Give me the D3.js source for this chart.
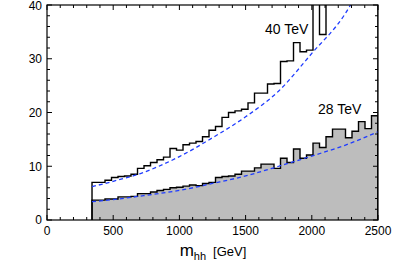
<!DOCTYPE html>
<html><head><meta charset="utf-8">
<script src="https://cdn.jsdelivr.net/npm/d3@7"></script>
<style>
html,body{margin:0;padding:0;background:#fff;}
svg{display:block;font-family:"Liberation Sans",Arial,Helvetica,sans-serif;}
</style></head>
<body><svg id="chart" width="403" height="265"></svg>
<script>
// ---- data ----
const binStart = 340, binEnd = 2500, nBins = 44;   // GeV
const hist40 = [7.0,7.0,7.4,7.9,8.1,8.2,8.5,9.6,10.1,10.7,11.2,11.7,13.3,13.0,14.0,14.3,14.6,15.5,16.7,17.4,19.1,20.0,20.3,20.6,21.8,23.6,23.6,25.3,25.4,29.5,29.6,33.0,31.3,31.6,44,34.5,45,46,47,48,49,50,51,52];
const hist28 = [3.7,3.7,3.9,3.9,4.3,4.3,4.4,4.9,4.9,5.2,5.5,5.7,6.0,6.1,6.3,6.5,6.4,6.8,7.0,7.9,8.1,8.2,8.5,9.1,9.1,9.7,10.4,10.4,9.6,11.5,10.7,13.2,11.5,12.1,14.3,13.5,15.5,16.9,16.9,15.3,16.5,18.3,17.0,19.4];
const curveX40 = [340,500,700,1000,1250,1500,1750,2000,2250,2350];
const curveY40 = [6.2,7.2,8.6,11.8,15.3,19.2,24.0,31.0,38.3,42.5];
const curveX28 = [340,500,750,1000,1250,1500,1750,2000,2250,2500];
const curveY28 = [3.4,3.8,4.6,5.5,6.8,8.2,10.0,11.9,13.9,16.4];
const xMajor = [0,500,1000,1500,2000,2500];
const yMajor = [0,10,20,30,40];
const labels = [{text:"40 TeV", x:1810, y:34.6},{text:"28 TeV", x:2210, y:19.8}];

// ---- layout ----
const W=403,H=265, m={l:47,t:5,r:25,b:45};
const svg=d3.select("#chart");
const x=d3.scaleLinear().domain([0,2500]).range([m.l,W-m.r]);
const y=d3.scaleLinear().domain([0,40]).range([H-m.b,m.t]);
const x0=x.range()[0],x1=x.range()[1],y0=y.range()[0],y1=y.range()[1];

svg.append("defs").append("clipPath").attr("id","clip")
  .append("rect").attr("x",x0).attr("y",y1).attr("width",x1-x0).attr("height",y0-y1);
const g=svg.append("g").attr("clip-path","url(#clip)");

const bw=(binEnd-binStart)/nBins;
function steps(vals){
  const pts=[{e:binStart,v:0}];
  vals.forEach((v,i)=>pts.push({e:binStart+i*bw,v:v}));
  pts.push({e:binEnd,v:vals[vals.length-1]});
  pts.push({e:binEnd,v:0});
  return pts;
}
// fill 28 TeV
const s28=steps(hist28);
g.append("path").datum(s28.slice(1,-1))
  .attr("d",d3.area().x(d=>x(d.e)).y0(y(0)).y1(d=>y(d.v)).curve(d3.curveStepAfter))
  .attr("fill","#bdbdbd");
function stepLine(pts){
  let p="M"+x(pts[0].e)+","+y(pts[0].v);
  for(let i=1;i<pts.length;i++){
    p+="V"+y(pts[i].v);
    if(i<pts.length-1 && pts[i+1].e!==pts[i].e) p+="H"+x(pts[i+1].e);
  }
  return p;
}
g.append("path").attr("d",stepLine(s28)).attr("fill","none").attr("stroke","#000").attr("stroke-width",1.4);
g.append("path").attr("d",stepLine(steps(hist40))).attr("fill","none").attr("stroke","#000").attr("stroke-width",1.4);

// dashed curves
const ln=d3.line().x(d=>x(d[0])).y(d=>y(d[1])).curve(d3.curveMonotoneX);
[[curveX40,curveY40],[curveX28,curveY28]].forEach(([cx,cy])=>{
  g.append("path").attr("d",ln(cx.map((v,i)=>[v,cy[i]])))
   .attr("fill","none").attr("stroke","#1f3cff").attr("stroke-width",1.3).attr("stroke-dasharray","4,3");
});

// frame
svg.append("rect").attr("x",x0).attr("y",y1).attr("width",x1-x0).attr("height",y0-y1)
  .attr("fill","none").attr("stroke","#000").attr("stroke-width",1.2);

// ticks
const tk=svg.append("g").attr("stroke","#000").attr("stroke-width",1);
d3.range(0,2501,100).forEach(v=>{
  const L=(v%500===0)?5:3;
  tk.append("line").attr("x1",x(v)).attr("x2",x(v)).attr("y1",y0).attr("y2",y0-L);
  tk.append("line").attr("x1",x(v)).attr("x2",x(v)).attr("y1",y1).attr("y2",y1+L);
});
d3.range(0,41,2).forEach(v=>{
  const L=(v%10===0)?5:3;
  tk.append("line").attr("y1",y(v)).attr("y2",y(v)).attr("x1",x0).attr("x2",x0+L);
  tk.append("line").attr("y1",y(v)).attr("y2",y(v)).attr("x1",x1).attr("x2",x1-L);
});
// tick labels
svg.append("g").selectAll("text").data(xMajor).join("text")
  .attr("x",d=>x(d)).attr("y",y0+15).attr("text-anchor","middle")
  .attr("font-size",12).text(d=>d);
svg.append("g").selectAll("text").data(yMajor).join("text")
  .attr("x",x0-5).attr("y",d=>y(d)+(d===40?5:4.3)).attr("text-anchor","end")
  .attr("font-size",12).text(d=>d);

// series labels
svg.append("g").selectAll("text").data(labels).join("text")
  .attr("x",d=>x(d.x)).attr("y",d=>y(d.y)).attr("text-anchor","middle")
  .attr("font-size",14).text(d=>d.text);

// axis title
const t=svg.append("text").attr("x",213).attr("y",256).attr("text-anchor","middle");
t.append("tspan").attr("font-size",17).text("m");
t.append("tspan").attr("font-size",11).attr("dy",4).text("hh");
t.append("tspan").attr("font-size",13).attr("dy",-4).attr("dx",7).text("[GeV]");
</script></body></html>
